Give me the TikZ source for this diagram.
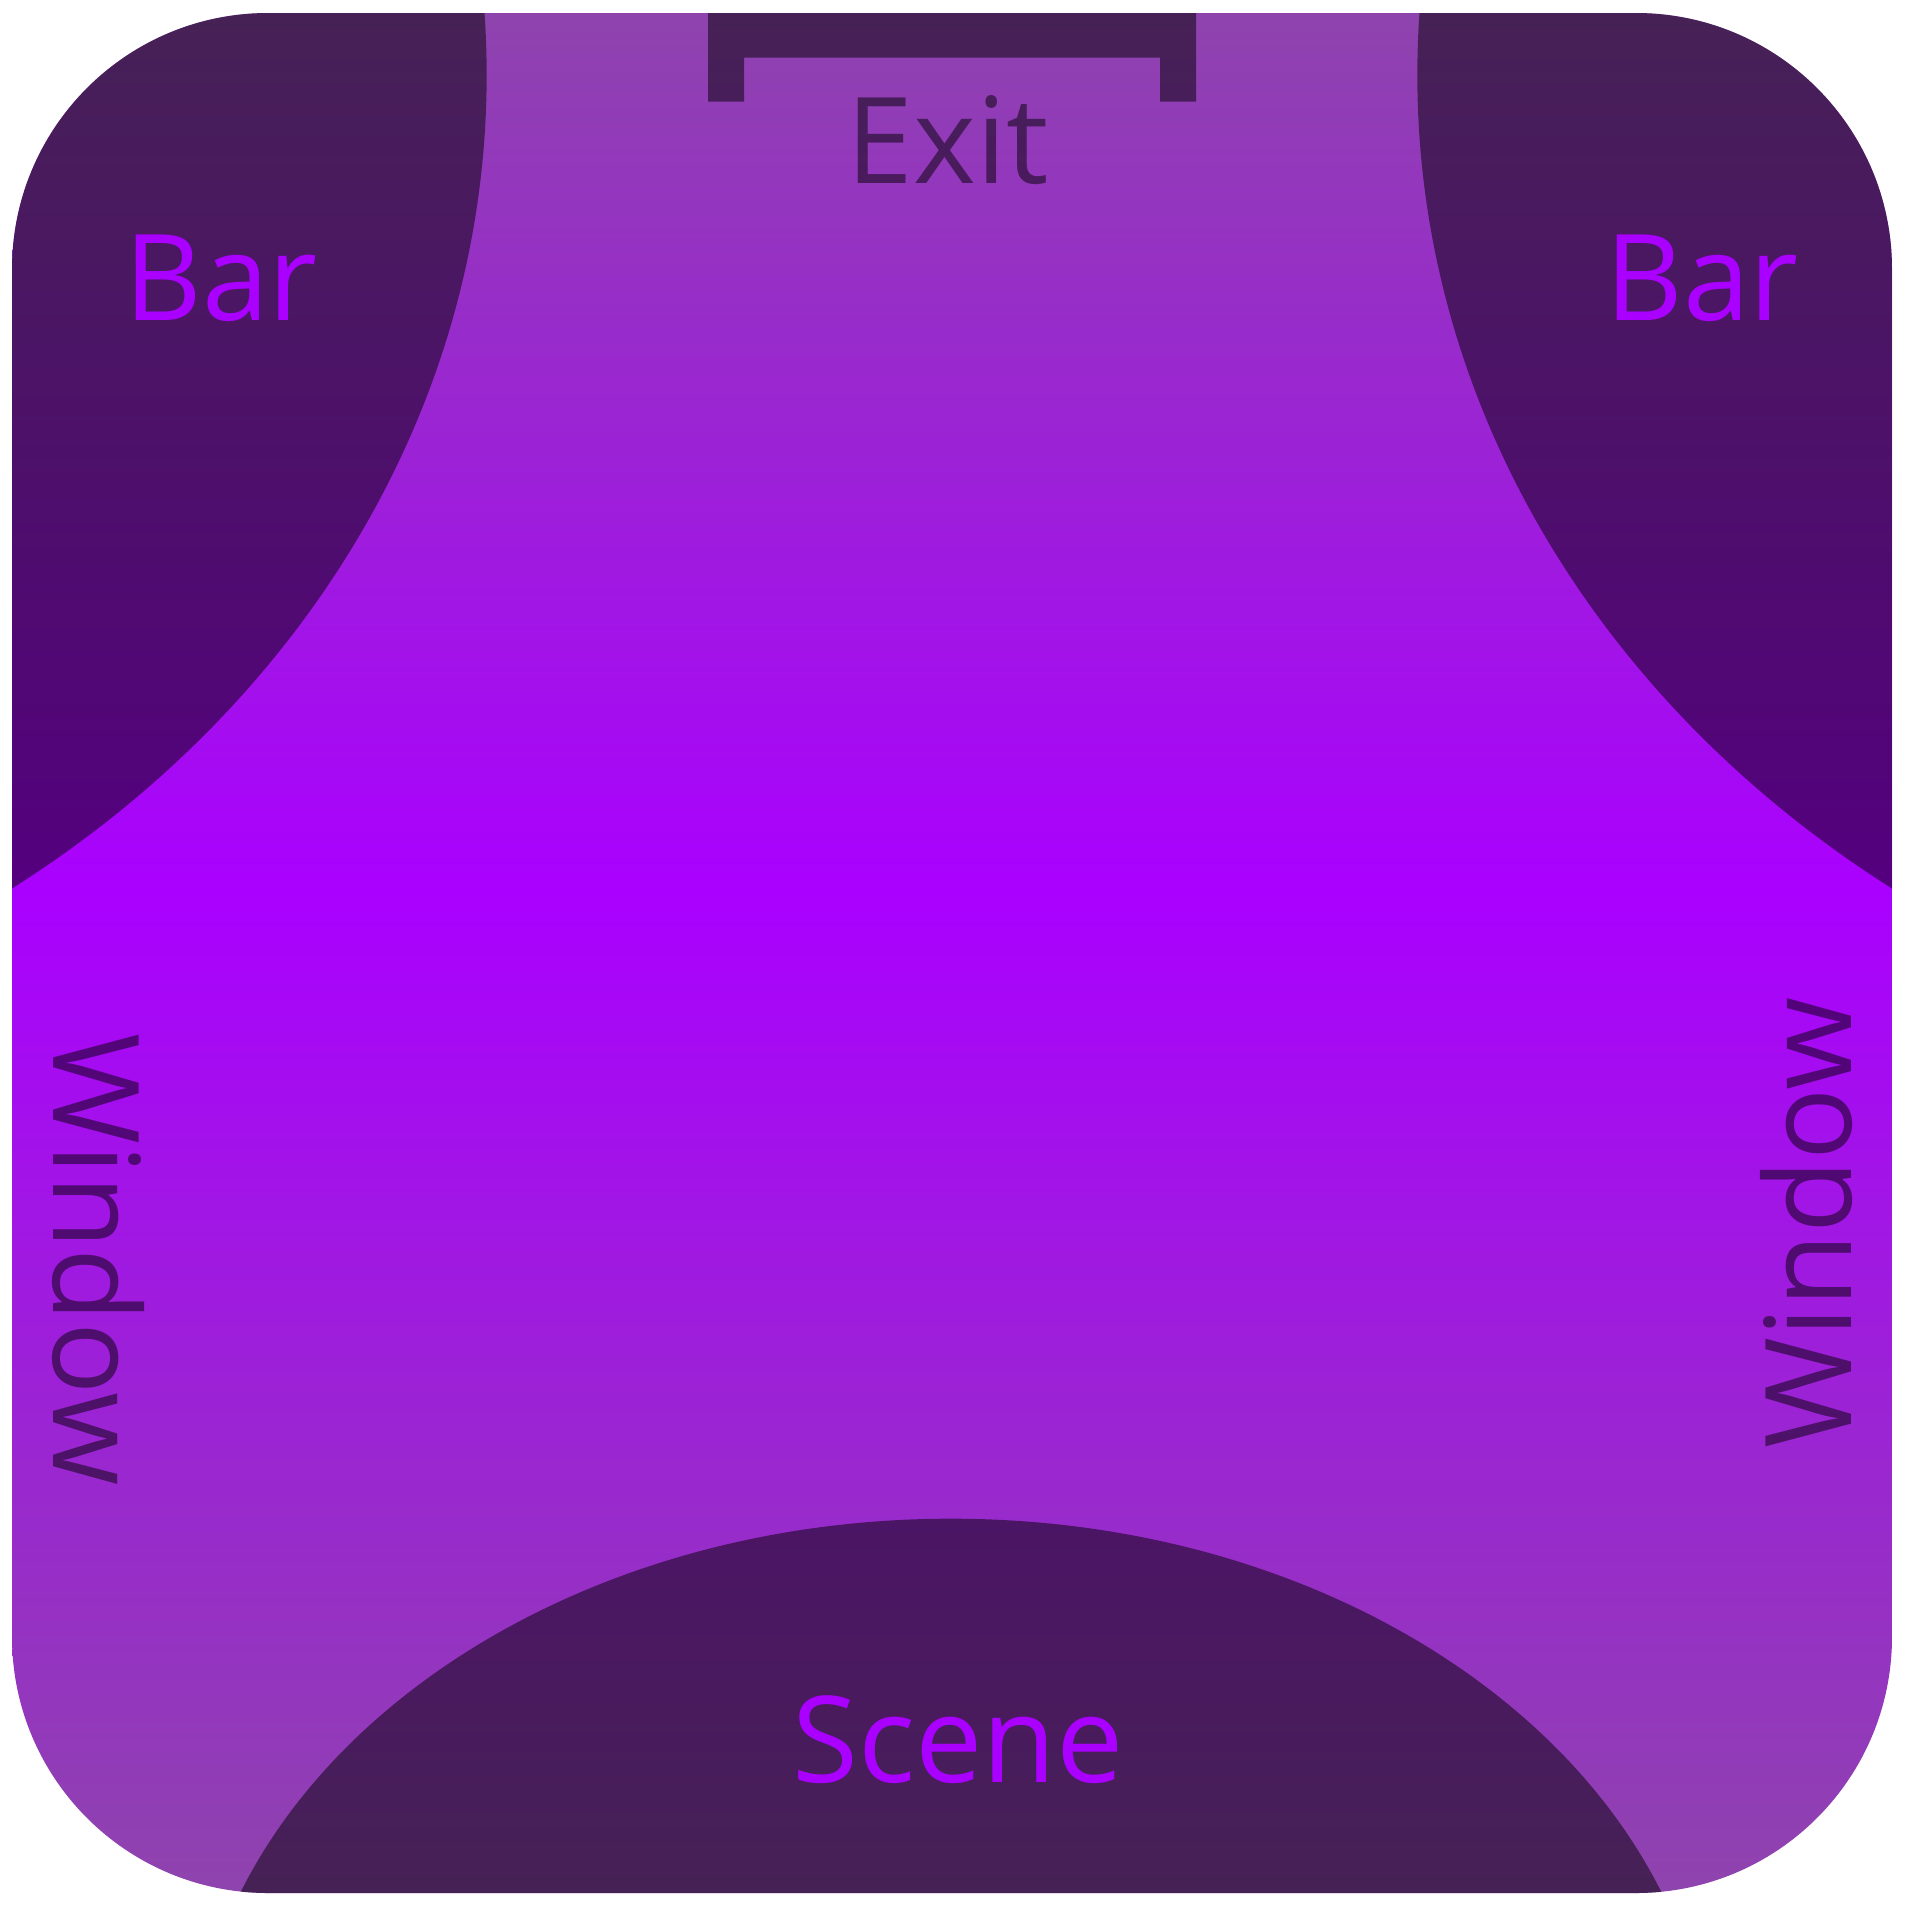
\documentclass[tikz,border=0pt]{standalone}
\usepackage{fontspec}
\setmainfont{Open Sans}
\definecolor{wist}{HTML}{8E44AD}
\definecolor{vio}{HTML}{AA00FF}
\begin{document}
\begin{tikzpicture}[x=0.01cm,y=-0.01cm,
  shadow/.style={fill=black,fill opacity=0.5},
  lbl/.style={font=\fontsize{34.1pt}{40pt}\selectfont, inner sep=0pt, anchor=base},
  dim/.style={lbl,text=black,text opacity=0.5},
  bright/.style={lbl,text=vio}]
\useasboundingbox (0,0) rectangle (1908,1908);
\begin{scope}
\clip[rounded corners=2.56cm] (12,13) rectangle (1892,1893);
\shade[top color=wist,bottom color=vio] (12,13) rectangle (1892,891);
\shade[top color=vio,bottom color=wist] (12,890) rectangle (1892,1893);
\fill[shadow] (-650,75) ellipse [x radius=11.36cm, y radius=10cm];
\fill[shadow] (2554,75) ellipse [x radius=11.36cm, y radius=10cm];
\fill[shadow] (951,2100) ellipse [x radius=7.6cm, y radius=5.81cm];
\fill[shadow] (708,13) -- (1196,13) -- (1196,101.7) -- (1160,101.7) -- (1160,57.7)
  -- (744,57.7) -- (744,101.7) -- (708,101.7) -- cycle;
\end{scope}
\node[dim] (exit) at (948,183.7) {Exit};
\node[bright] (barL) at (221,320) {Bar};
\node[bright] (barR) at (1702,320) {Bar};
\node[bright] (scene) at (958,1782) {Scene};
\node[dim,rotate=-90] (winL) at (53.5,1259.5) {Window};
\node[dim,rotate=90] (winR) at (1851,1223) {Window};
\end{tikzpicture}
\end{document}
